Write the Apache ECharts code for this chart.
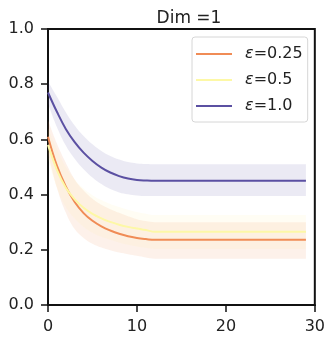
<!DOCTYPE html>
<html>
<head>
<meta charset="utf-8">
<script src="https://cdn.jsdelivr.net/npm/echarts@6/dist/echarts.min.js"></script>
<style>
  html, body { margin: 0; padding: 0; background: #fff; }
  #chart { width: 328px; height: 339px; }
</style>
</head>
<body>
<div id="chart"></div>
<script>
// x axis categories 0..30 (data runs 0..29)
const steps = Array.from({length: 31}, (_, i) => String(i));
const tail = n => Array(18).fill(n);

// eps = 0.25
const meanA  = [0.61, 0.505, 0.43, 0.373, 0.333, 0.305, 0.285, 0.27, 0.258, 0.249, 0.243, 0.239].concat(tail(0.236));
const lowerA = [0.55, 0.425, 0.335, 0.275, 0.243, 0.222, 0.208, 0.198, 0.19, 0.184, 0.178, 0.172].concat(tail(0.168));
const upperA = [0.67, 0.585, 0.515, 0.455, 0.415, 0.385, 0.363, 0.347, 0.334, 0.322, 0.311, 0.304].concat(tail(0.30));
// eps = 0.5
const meanB  = [0.58, 0.49, 0.425, 0.383, 0.352, 0.33, 0.314, 0.301, 0.291, 0.283, 0.277, 0.272].concat(tail(0.265));
const lowerB = [0.53, 0.425, 0.355, 0.313, 0.283, 0.262, 0.247, 0.236, 0.226, 0.218, 0.212, 0.207].concat(tail(0.203));
const upperB = [0.64, 0.565, 0.5, 0.455, 0.422, 0.398, 0.38, 0.366, 0.355, 0.345, 0.337, 0.331].concat(tail(0.326));
// eps = 1.0
const meanC  = [0.77, 0.70, 0.638, 0.59, 0.552, 0.522, 0.498, 0.48, 0.467, 0.458, 0.453, 0.451].concat(tail(0.45));
const lowerC = [0.73, 0.645, 0.578, 0.53, 0.492, 0.462, 0.438, 0.42, 0.408, 0.401, 0.397, 0.395].concat(tail(0.395));
const upperC = [0.81, 0.755, 0.698, 0.65, 0.612, 0.582, 0.558, 0.54, 0.527, 0.518, 0.513, 0.511].concat(tail(0.51));

const names = ['ε=0.25', 'ε=0.5', 'ε=1.0'];
const colors = ['#f08c56', '#fdf8a6', '#5b50a2'];
const bandColors = ['rgba(240,140,86,0.12)', 'rgba(253,238,130,0.09)', 'rgba(91,80,162,0.12)'];

function band(lower, upper, idx) {
    const key = 'band' + idx;
    return [
        {
            type: 'line', stack: key, symbol: 'none', silent: true, z: 1, smooth: 0.4,
            lineStyle: {opacity: 0},
            data: lower
        },
        {
            type: 'line', stack: key, symbol: 'none', silent: true, z: 1, smooth: 0.4,
            lineStyle: {opacity: 0},
            areaStyle: {color: bandColors[idx], opacity: 1},
            data: upper.map((u, i) => +(u - lower[i]).toFixed(4))
        }
    ];
}

function meanLine(mean, idx) {
    return {
        name: names[idx], type: 'line', symbol: 'none', z: 3, smooth: 0.4,
        itemStyle: {color: colors[idx]},
        lineStyle: {color: colors[idx], width: 2},
        data: mean
    };
}

const chart = echarts.init(document.getElementById('chart'));
chart.setOption({
    animation: false,
    title: {
        text: 'Dim =1', left: 184, top: 5, textAlign: 'center',
        textStyle: {fontFamily: 'DejaVu Sans', fontSize: 17, fontWeight: 'normal', color: '#222'}
    },
    legend: {
        data: names, orient: 'vertical', left: 192, top: 37,
        padding: [9, 5, 8, 4], itemGap: 10, itemWidth: 36, itemHeight: 2, icon: 'rect',
        borderColor: '#d6d6d6', borderWidth: 1, borderRadius: 3,
        backgroundColor: 'rgba(255,255,255,0.8)',
        formatter: n => '{i|ε}{n|' + n.slice(1) + '}',
        textStyle: {
            padding: [0, 0, 0, 8],
            rich: {
                i: {fontFamily: 'DejaVu Sans', fontStyle: 'italic', fontSize: 16, color: '#222', lineHeight: 17},
                n: {fontFamily: 'DejaVu Sans', fontSize: 16, color: '#222', lineHeight: 17}
            }
        }
    },
    grid: {
        left: 48, right: 9, top: 29, bottom: 34,
        show: true, borderColor: '#111', borderWidth: 2
    },
    xAxis: {
        type: 'category', data: steps, boundaryGap: false,
        splitLine: {show: false},
        axisLine: {lineStyle: {color: '#111', width: 2}},
        axisTick: {interval: 9, length: 7, lineStyle: {color: '#111', width: 1.5}},
        axisLabel: {interval: 9, margin: 14, fontFamily: 'DejaVu Sans', fontSize: 16, color: '#222'}
    },
    yAxis: {
        type: 'value', min: 0, max: 1, interval: 0.2,
        splitLine: {show: false},
        axisLine: {show: true, lineStyle: {color: '#111', width: 2}},
        axisTick: {show: true, length: 7, lineStyle: {color: '#111', width: 1.5}},
        axisLabel: {margin: 14, fontFamily: 'DejaVu Sans', fontSize: 16, color: '#222', formatter: v => v.toFixed(1)}
    },
    series: [
        ...band(lowerA, upperA, 0),
        meanLine(meanA, 0),
        ...band(lowerB, upperB, 1),
        meanLine(meanB, 1),
        ...band(lowerC, upperC, 2),
        meanLine(meanC, 2)
    ]
});
</script>
</body>
</html>
